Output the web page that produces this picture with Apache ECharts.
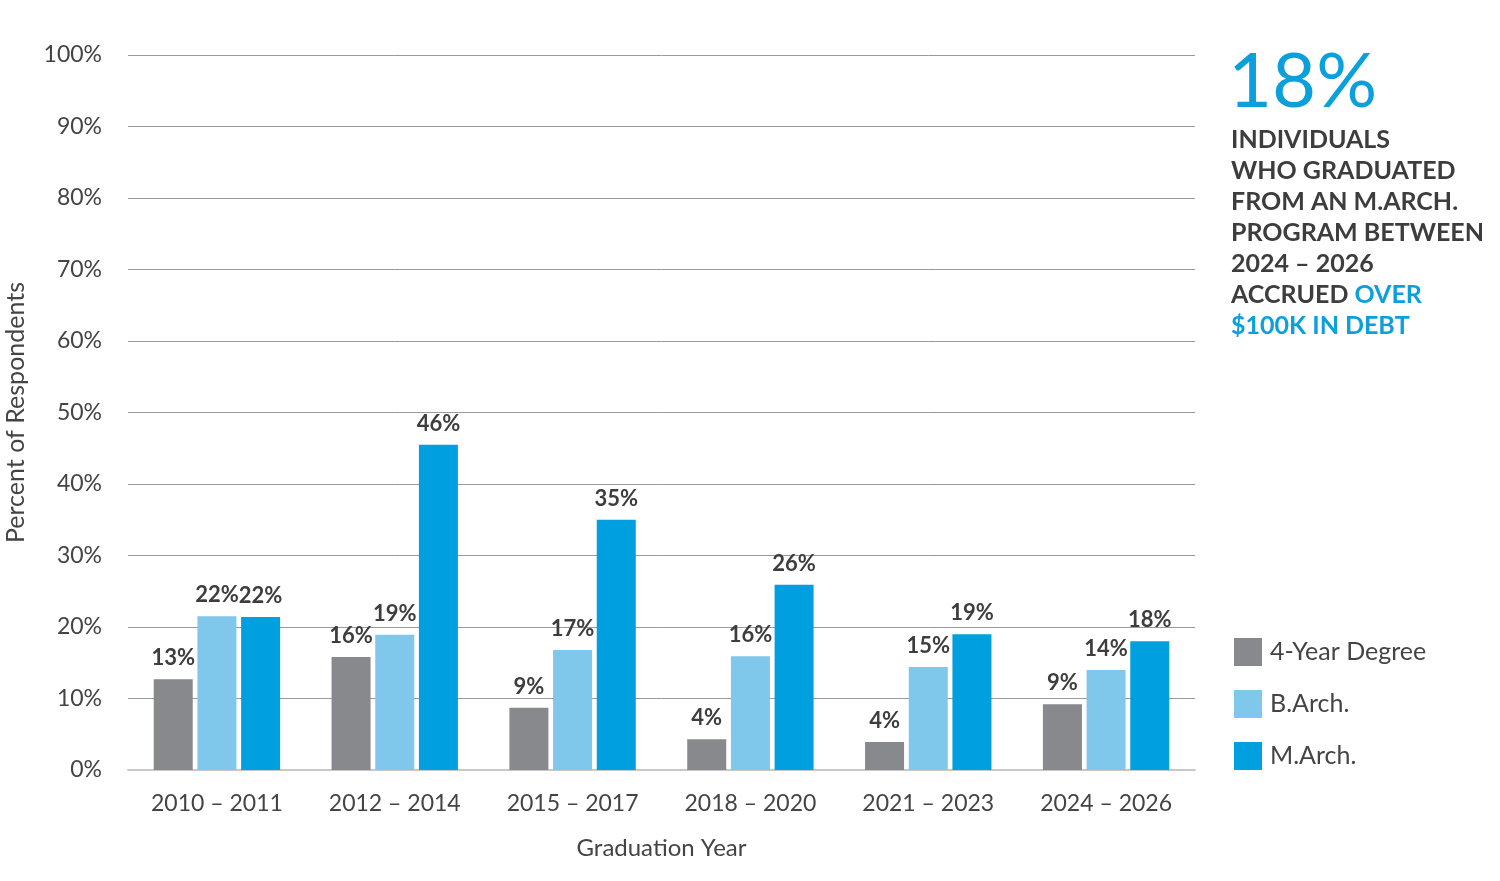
<!DOCTYPE html>
<html>
<head>
<meta charset="utf-8">
<script src="https://cdn.jsdelivr.net/npm/echarts@6/dist/echarts.min.js"></script>
<style>
  html, body { margin: 0; padding: 0; background: #fff; }
  #chart { width: 1500px; height: 881px; }
</style>
</head>
<body>
<div id="chart"></div>
<script>
// graduation year ranges
var categories = ["2010 \u2013 2011", "2012 \u2013 2014", "2015 \u2013 2017", "2018 \u2013 2020", "2021 \u2013 2023", "2024 \u2013 2026"];
// bar heights (percent)
var fourYear = [12.7, 15.8, 8.7, 4.3, 3.9, 9.2];
var bArch = [21.5, 18.9, 16.8, 15.9, 14.4, 14.0];
var mArch = [21.4, 45.5, 35.0, 25.9, 19.0, 18.0];
// printed labels above bars
var fourYearLabels = ["13%", "16%", "9%", "4%", "4%", "9%"];
var bArchLabels = ["22%", "19%", "17%", "16%", "15%", "14%"];
var mArchLabels = ["22%", "46%", "35%", "26%", "19%", "18%"];
var yTicks = [0, 10, 20, 30, 40, 50, 60, 70, 80, 90, 100];

var FONT = "Lato";
var chart = echarts.init(document.getElementById("chart"));

function barSeries(name, data, labels, color) {
  return {
    name: name,
    type: "bar",
    data: data,
    barWidth: 39,
    barGap: "12%",
    itemStyle: { color: color },
    label: {
      show: true,
      position: "top",
      distance: 10,
      color: "#3d3d3d",
      fontFamily: FONT,
      fontWeight: "bold",
      fontSize: 22,
      formatter: function (p) { return labels[p.dataIndex]; }
    }
  };
}

var option = {
  animation: false,
  grid: { left: 128, right: 305, top: 55, bottom: 111, outerBoundsMode: "none" },
  legend: {
    orient: "vertical",
    left: 1229,
    top: 633,
    itemWidth: 28,
    itemHeight: 28,
    itemGap: 24,
    icon: "rect",
    textStyle: { fontFamily: FONT, fontSize: 25, color: "#444", padding: [0, 0, 0, 3] },
    data: ["4-Year Degree", "B.Arch.", "M.Arch."]
  },
  xAxis: {
    type: "category",
    data: categories,
    name: "Graduation Year",
    nameLocation: "middle",
    nameGap: 66,
    nameTextStyle: { fontFamily: FONT, fontSize: 24, color: "#444" },
    axisLine: { lineStyle: { color: "#c8c8c8", width: 2 } },
    axisTick: { show: false },
    axisLabel: { fontFamily: FONT, fontSize: 23, color: "#444", margin: 22 }
  },
  yAxis: {
    type: "value",
    min: 0,
    max: 100,
    interval: 10,
    name: "Percent of Respondents",
    nameLocation: "middle",
    nameGap: 100,
    nameRotate: 90,
    nameTextStyle: { fontFamily: FONT, fontSize: 25, color: "#444" },
    axisLine: { show: false },
    axisTick: { show: false },
    splitLine: { lineStyle: { color: "#999", width: 1 } },
    axisLabel: {
      fontFamily: FONT, fontSize: 23, color: "#444", margin: 26,
      formatter: function (v) { return yTicks.indexOf(v) >= 0 ? v + "%" : ""; }
    }
  },
  series: [
    barSeries("4-Year Degree", fourYear, fourYearLabels, "#88898c"),
    barSeries("B.Arch.", bArch, bArchLabels, "#7fc7eb"),
    barSeries("M.Arch.", mArch, mArchLabels, "#009fdf")
  ],
  graphic: [
    {
      type: "text",
      left: 1228,
      top: 44,
      style: { text: "18%", fontFamily: FONT, fontSize: 76, fill: "#0aa0dc" }
    },
    {
      type: "text",
      left: 1231,
      top: 127,
      style: {
        text: "{d|INDIVIDUALS}\n{d|WHO GRADUATED}\n{d|FROM AN M.ARCH.}\n{d|PROGRAM BETWEEN}\n{d|2024 \u2013 2026}\n{d|ACCRUED }{b|OVER}\n{b|$100K IN DEBT}",
        rich: {
          d: { fontFamily: FONT, fontWeight: "bold", fontSize: 25, lineHeight: 31, fill: "#3d3d3d" },
          b: { fontFamily: FONT, fontWeight: "bold", fontSize: 25, lineHeight: 31, fill: "#0aa0dc" }
        }
      }
    }
  ]
};
chart.setOption(option);
</script>
</body>
</html>
